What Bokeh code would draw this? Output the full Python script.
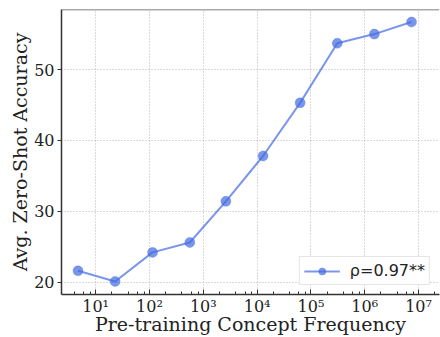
from bokeh.plotting import figure
from bokeh.models import Range1d, LogTicker, FixedTicker, CustomJSTickFormatter, Span
from bokeh.embed import file_html
from bokeh.resources import INLINE

# data
freq = [4.7, 23, 114, 562, 2630, 12900, 63000, 309000, 1.51e6, 7.4e6]
acc = [21.6, 20.1, 24.2, 25.6, 31.4, 37.8, 45.3, 53.7, 55.0, 56.7]
y_ticks = [20, 30, 40, 50]
legend_text = "ρ=0.97**"
x_label = "Pre-training Concept Frequency"
y_label = "Avg. Zero-Shot Accuracy"

SERIF = "DejaVu Serif"

p = figure(width=440, height=337, x_axis_type="log",
           x_range=Range1d(2.32, 2.45e7), y_range=Range1d(18.26, 58.47),
           output_backend="svg", toolbar_location=None,
           min_border_left=61, min_border_right=1, min_border_top=9, min_border_bottom=43)
p.outline_line_color = None
p.background_fill_color = "white"

blue = "royalblue"
p.line(freq, acc, line_color=blue, line_alpha=0.7, line_width=2, legend_label=legend_text)
p.scatter(freq, acc, size=10, fill_color=blue, fill_alpha=0.7, line_color=blue, line_alpha=0.3,
          legend_label=legend_text)

# top spine
p.add_layout(Span(location=58.47, dimension="width", line_color="#555555", line_width=1.5))

# x axis
xa = p.xaxis[0]
xa.ticker = LogTicker(desired_num_ticks=8)
xa.formatter = CustomJSTickFormatter(code="""
const sup = {'0':'\u2070','1':'\u00b9','2':'\u00b2','3':'\u00b3','4':'\u2074','5':'\u2075','6':'\u2076','7':'\u2077','8':'\u2078','9':'\u2079','-':'\u207b'};
const e = Math.round(Math.log10(tick));
return '10' + String(e).split('').map(c => sup[c]).join('');
""")
xa.axis_label = x_label
xa.axis_label_text_font = SERIF
xa.axis_label_text_font_style = "normal"
xa.axis_label_text_font_size = "19px"
xa.axis_label_text_color = "#222222"
xa.axis_label_standoff = -6
xa.major_label_text_font = SERIF
xa.major_label_text_font_size = "16px"
xa.major_label_text_color = "#222222"
xa.major_label_standoff = 2
xa.major_tick_in = 5
xa.major_tick_out = 0
xa.minor_tick_in = 3
xa.minor_tick_out = 0
xa.axis_line_color = "#333333"
xa.axis_line_width = 1.5
xa.major_tick_line_color = "#333333"
xa.minor_tick_line_color = "#333333"

# y axis
ya = p.yaxis[0]
ya.ticker = FixedTicker(ticks=y_ticks)
ya.axis_label = y_label
ya.axis_label_text_font = SERIF
ya.axis_label_text_font_style = "normal"
ya.axis_label_text_font_size = "19px"
ya.axis_label_text_color = "#222222"
ya.axis_label_standoff = 0
ya.major_label_text_font = SERIF
ya.major_label_text_font_size = "16px"
ya.major_label_text_color = "#222222"
ya.major_label_standoff = 3
ya.major_tick_in = 0
ya.major_tick_out = 4
ya.minor_tick_line_color = None
ya.axis_line_color = "#333333"
ya.axis_line_width = 1.5
ya.major_tick_line_color = "#333333"

# grid
for g in (p.xgrid[0], p.ygrid[0]):
    g.grid_line_color = "#b5b5b5"
    g.grid_line_dash = "1 2"
    g.grid_line_width = 1

# legend
lg = p.legend[0]
lg.location = "bottom_right"
lg.label_text_font = "DejaVu Sans"
lg.label_text_font_size = "16px"
lg.label_text_color = "#222222"
lg.glyph_width = 36
lg.glyph_height = 18
lg.border_line_color = "#cccccc"
lg.border_line_width = 1
lg.background_fill_alpha = 0.9
lg.padding = 4
lg.margin = 9
lg.spacing = 0
lg.label_standoff = 10

open("out.html", "w").write(file_html(p, INLINE))
